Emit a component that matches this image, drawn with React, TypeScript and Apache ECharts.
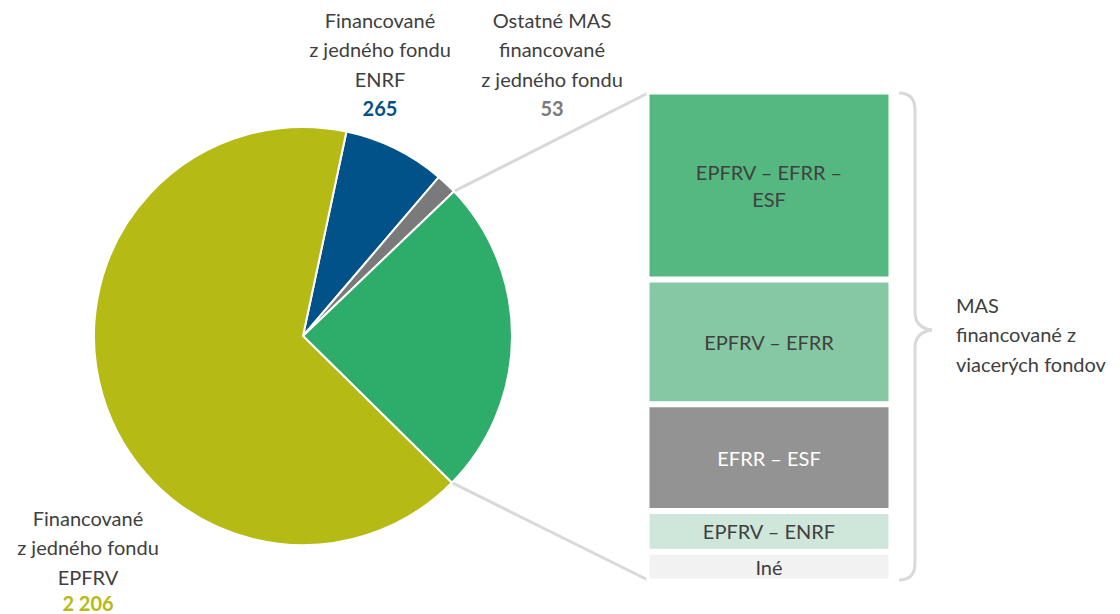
import React, { useEffect, useRef } from "react";
import * as echarts from "echarts";

const pieNames = ["ENRF", "Ostatné", "Viac fondov", "EPFRV"];
const pieValues = [265, 53, 821, 2206];
const pieColors = ["#005288", "#7A7A7A", "#2EAC6A", "#B5BA14"];
const pieLabels = [
  "Financované\nz jedného fondu\nENRF",
  "Ostatné MAS\nfinancované\nz jedného fondu",
  "",
  "Financované\nz jedného fondu\nEPFRV",
];
const pieValueText = ["265", "53", "", "2 206"];

const barNames = ["EPFRV – EFRR –\nESF", "EPFRV – EFRR", "EFRR – ESF", "EPFRV – ENRF", "Iné"];
const barValues = [315, 209, 179, 68, 50];
const barColors = ["#55B881", "#86C8A3", "#939393", "#CFE7DA", "#F2F2F2"];
const barTextColors = ["#404040", "#404040", "#FFFFFF", "#404040", "#404040"];

const braceLabel = "MAS\nfinancované z\nviacerých fondov";

const FONT = "Lato";
const FS = 20;

export default function App() {
  const ref = useRef<HTMLDivElement>(null);
  useEffect(() => {
    document.body.style.margin = "0";
    if (!ref.current) return;
    const chart = echarts.init(ref.current, undefined, { renderer: "svg" });

    const cx = 303, cy = 336, r = 209, startAngle = 78;
    const total = pieValues.reduce((a, b) => a + b, 0);
    const angAt = (cum: number) => ((90 - startAngle) + (cum / total) * 360) * Math.PI / 180;
    const cumBeforeGreen = pieValues[0] + pieValues[1];
    const cumAfterGreen = cumBeforeGreen + pieValues[2];
    const a1 = angAt(cumBeforeGreen), a2 = angAt(cumAfterGreen);
    const p1 = [cx + r * Math.sin(a1), cy - r * Math.cos(a1)];
    const p2 = [cx + r * Math.sin(a2), cy - r * Math.cos(a2)];

    const gLeft = 648, gTop = 93, gW = 242, gH = 487;

    echarts.graphic.registerShape(
      "brace",
      echarts.graphic.extendPath(
        "M899,93 Q915,93 915,110 L915,312 Q915,328 932,330 Q915,332 915,348 L915,563 Q915,580 899,580",
        {}
      )
    );

    const labelPos = [
      { x: 380, y: 5 },
      { x: 552, y: 5 },
      { x: 0, y: 0 },
      { x: 88, y: 503 },
    ];

    const barSum = barValues.reduce((a, b) => a + b, 0);

    chart.setOption({
      animation: false,
      textStyle: { fontFamily: FONT },
      grid: { left: gLeft - 1.5, top: gTop - 1.5, width: gW + 3, height: gH + 3 },
      xAxis: { type: "category", data: ["MAS"], show: false },
      yAxis: { type: "value", min: 0, max: barSum, inverse: true, show: false },
      series: [
        {
          type: "pie",
          center: [cx, cy],
          radius: r,
          startAngle,
          clockwise: true,
          itemStyle: { borderColor: "#fff", borderWidth: 2 },
          labelLine: { show: false },
          label: {
            show: true,
            position: "outside",
            overflow: "none",
            formatter: (p: any) =>
              pieLabels[p.dataIndex] ? `${pieLabels[p.dataIndex]}\n{v${p.dataIndex}|${pieValueText[p.dataIndex]}}` : "",
            color: "#404040",
            fontSize: FS,
            lineHeight: 29.5,
            align: "center",
            fontFamily: FONT,
            rich: {
              v0: { color: pieColors[0], fontWeight: "bold", fontSize: FS, lineHeight: 29.5, fontFamily: FONT },
              v1: { color: pieColors[1], fontWeight: "bold", fontSize: FS, lineHeight: 29.5, fontFamily: FONT },
              v3: { color: pieColors[3], fontWeight: "bold", fontSize: FS, lineHeight: 22, fontFamily: FONT },
            },
          },
          labelLayout: (p: any) => ({
            x: labelPos[p.dataIndex].x,
            y: labelPos[p.dataIndex].y,
            align: "center",
            verticalAlign: "top",
          }),
          data: pieNames.map((n, i) => ({
            name: n,
            value: pieValues[i],
            itemStyle: { color: pieColors[i] },
          })),
        },
        ...barNames.map((n, i) => ({
          type: "bar",
          name: n,
          stack: "mas",
          barWidth: "100%",
          data: [barValues[i]],
          itemStyle: { color: barColors[i], borderColor: "#fff", borderWidth: 3 },
          label: {
            show: true,
            position: "inside",
            formatter: n,
            color: barTextColors[i],
            fontSize: FS,
            lineHeight: 27,
            fontFamily: FONT,
          },
        })),
      ],
      graphic: [
        {
          type: "line",
          shape: { x1: p1[0], y1: p1[1], x2: gLeft, y2: gTop },
          style: { stroke: "#D9D9D9", lineWidth: 3 },
          silent: true,
        },
        {
          type: "line",
          shape: { x1: p2[0], y1: p2[1], x2: gLeft, y2: gTop + gH },
          style: { stroke: "#D9D9D9", lineWidth: 3 },
          silent: true,
        },
        {
          type: "brace",
          style: { stroke: "#D9D9D9", lineWidth: 3, fill: "none" },
          silent: true,
        },
        {
          type: "text",
          x: 956,
          y: 290,
          style: {
            text: braceLabel,
            fill: "#404040",
            fontSize: FS,
            lineHeight: 29.5,
            fontFamily: FONT,
            align: "left",
          },
          silent: true,
        },
      ],
    });
    return () => chart.dispose();
  }, []);
  return <div ref={ref} style={{ width: 1120, height: 614 }} />;
}
